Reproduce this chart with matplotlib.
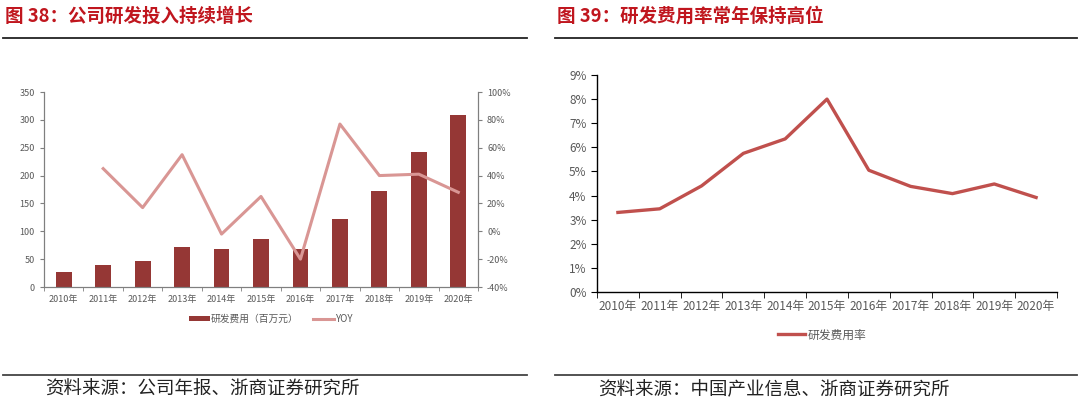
import numpy as np
import matplotlib
matplotlib.use('Agg')
import matplotlib.pyplot as plt
from matplotlib.lines import Line2D

plt.rcParams['font.family'] = ['Noto Sans CJK SC', 'DejaVu Sans']
plt.rcParams['axes.unicode_minus'] = False

# 数据
years = ['2010年', '2011年', '2012年', '2013年', '2014年', '2015年',
         '2016年', '2017年', '2018年', '2019年', '2020年']
rd_expense = [27, 39, 46, 71, 69, 87, 69, 122, 172, 242, 309]          # 百万元
rd_yoy = [np.nan, 45, 17, 55, -2, 25, -20, 77, 40, 41, 28]             # %
rd_rate = [3.3, 3.45, 4.4, 5.75, 6.35, 8.0, 5.05, 4.38, 4.08, 4.48, 3.92]  # %

left_ticks = [0, 50, 100, 150, 200, 250, 300, 350]
right_ticks = [-40, -20, 0, 20, 40, 60, 80, 100]
rate_ticks = list(range(0, 10))

title_red = '#C0161E'
bar_col = '#953735'
yoy_col = '#D99694'
rate_col = '#C0504D'
grey = '#595959'

fig = plt.figure(figsize=(10.8, 4.11), dpi=100)

# 标题和分隔线
fig.text(5/1080, 1-16/411, '图 38：公司研发投入持续增长', color=title_red,
         fontsize=13.3, fontweight='bold', va='center', ha='left')
fig.text(557/1080, 1-16/411, '图 39：研发费用率常年保持高位', color=title_red,
         fontsize=13.3, fontweight='bold', va='center', ha='left')
fig.add_artist(Line2D([3/1080, 527/1080], [1-38/411]*2, color='#222222', lw=1.3))
fig.add_artist(Line2D([555/1080, 1077/1080], [1-38/411]*2, color='#222222', lw=1.3))
fig.add_artist(Line2D([3/1080, 527/1080], [1-375/411]*2, color='#444444', lw=1.3))
fig.add_artist(Line2D([555/1080, 1077/1080], [1-375/411]*2, color='#444444', lw=1.3))
fig.text(45/1080, 1-390/411, '资料来源：公司年报、浙商证券研究所', color='#222222',
         fontsize=13.3, fontweight='light', va='center', ha='left')
fig.text(598/1080, 1-390/411, '资料来源：中国产业信息、浙商证券研究所', color='#222222',
         fontsize=13.3, fontweight='light', va='center', ha='left')

# 左图
x = np.arange(len(years))
ax1 = fig.add_axes([44/1080, 1-287/411, (478-44)/1080, (287-92)/411])
bars = ax1.bar(x, rd_expense, width=0.4, color=bar_col, zorder=2, label='研发费用（百万元）')
ax1.set_xlim(-0.5, len(years)-0.5)
ax1.set_ylim(0, 350)
ax1.set_yticks(left_ticks)
ax1.set_xticks(x)
ax1.set_xticklabels(years)
ax1.set_xticks(np.arange(-0.5, len(years)), minor=True)
ax1.tick_params(axis='x', which='major', length=0, labelsize=6.5, colors=grey, pad=6)
ax1.tick_params(axis='x', which='minor', length=3, color='#7f7f7f')
ax1.tick_params(axis='y', labelsize=6.5, colors=grey, length=3, color='#7f7f7f')
ax1.spines['top'].set_visible(False)
for s in ['left', 'bottom', 'right']:
    ax1.spines[s].set_color('#7f7f7f')
    ax1.spines[s].set_linewidth(0.8)

ax2 = ax1.twinx()
yoy_line, = ax2.plot(x, rd_yoy, color=yoy_col, lw=2.2, zorder=3, label='YOY')
ax2.set_ylim(-40, 100)
ax2.set_yticks(right_ticks)
ax2.set_yticklabels([f'{t}%' for t in right_ticks])
ax2.tick_params(axis='y', labelsize=6.5, colors=grey, length=3, color='#7f7f7f')
ax2.spines['top'].set_visible(False)
for s in ['left', 'bottom', 'right']:
    ax2.spines[s].set_color('#7f7f7f')
    ax2.spines[s].set_linewidth(0.8)

fig.legend([bars, yoy_line], ['研发费用（百万元）', 'YOY'], loc='center',
           bbox_to_anchor=(271/1080, 1-319/411), ncol=2, frameon=False,
           fontsize=7, labelcolor=grey, handlelength=2.1, handleheight=0.5,
           handletextpad=0.15, columnspacing=1.5)

# 右图
ax3 = fig.add_axes([597/1080, 1-292/411, (1057-597)/1080, (292-75)/411])
rate_line, = ax3.plot(x, rd_rate, color=rate_col, lw=2.4, label='研发费用率')
ax3.set_xlim(-0.5, len(years)-0.5)
ax3.set_ylim(0, 9)
ax3.set_yticks(rate_ticks)
ax3.set_yticklabels([f'{t}%' for t in rate_ticks])
ax3.set_xticks(x)
ax3.set_xticklabels(years)
ax3.set_xticks(np.arange(-0.5, len(years)), minor=True)
ax3.tick_params(axis='x', which='major', length=0, labelsize=8.5, colors=grey, pad=6)
ax3.tick_params(axis='x', which='minor', length=4, color='black')
ax3.tick_params(axis='y', labelsize=8.5, colors=grey, length=4, color='black')
for s in ['top', 'right']:
    ax3.spines[s].set_visible(False)
for s in ['left', 'bottom']:
    ax3.spines[s].set_color('black')
    ax3.spines[s].set_linewidth(1.0)

fig.legend([rate_line], ['研发费用率'], loc='center',
           bbox_to_anchor=(822/1080, 1-335/411), frameon=False,
           fontsize=8.5, labelcolor=grey, handlelength=2.3, handletextpad=0.2)

fig.savefig('out.png', dpi=100)
